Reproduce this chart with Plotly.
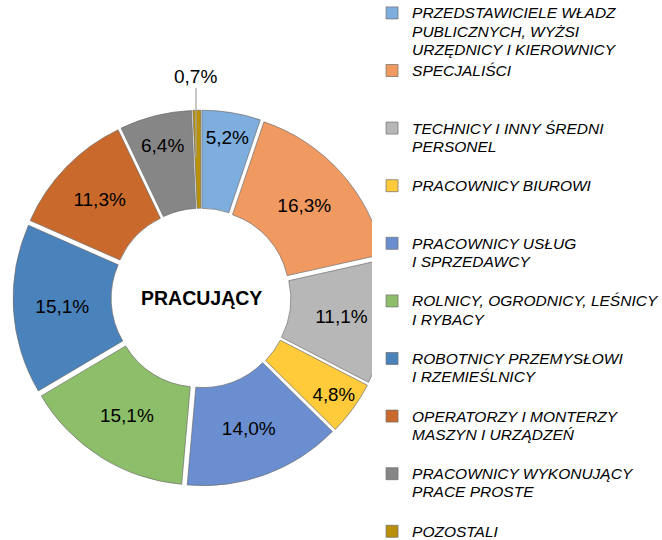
import plotly.graph_objects as go

categories = [
    "PRZEDSTAWICIELE WŁADZ<br>PUBLICZNYCH, WYŻSI<br>URZĘDNICY I KIEROWNICY",
    "SPECJALIŚCI",
    "TECHNICY I INNY ŚREDNI<br>PERSONEL",
    "PRACOWNICY BIUROWI",
    "PRACOWNICY USŁUG<br>I SPRZEDAWCY",
    "ROLNICY, OGRODNICY, LEŚNICY<br>I RYBACY",
    "ROBOTNICY PRZEMYSŁOWI<br>I RZEMIEŚLNICY",
    "OPERATORZY I MONTERZY<br>MASZYN I URZĄDZEŃ",
    "PRACOWNICY WYKONUJĄCY<br>PRACE PROSTE",
    "POZOSTALI",
]
values = [5.2, 16.3, 11.1, 4.8, 14.0, 15.1, 15.1, 11.3, 6.4, 0.7]
colors = ["#7EAEDE", "#F09A62", "#B7B7B7", "#FFCB3A", "#6A8ED0",
          "#8DBF6A", "#4A82BC", "#C96A2C", "#868686", "#B8900A"]
center_title = "PRACUJĄCY"

# pad legend labels to 3 lines each for even spacing (except the last one)
labels = []
for i, c in enumerate(categories):
    n = c.count("<br>") + 1
    pad = 0 if i == len(categories) - 1 else 3 - n
    lines = c.split("<br>") + ["\u00a0"] * pad
    labels.append("<br>".join('<span style="font-size:15.5px">' + s + "</span>" for s in lines))

# small last slice gets its label outside via an annotation with a leader line
textpos = ["inside"] * 9 + ["none"]

FONT = "Liberation Sans, Arial"

fig = go.Figure(go.Pie(
    labels=labels,
    values=values,
    sort=False,
    direction="clockwise",
    rotation=0,
    hole=0.46,
    pull=[0.035] * len(values),
    marker=dict(colors=colors, line=dict(color="rgba(110,110,110,0.7)", width=1)),
    texttemplate="%{value:.1f}%",
    textposition=textpos,
    insidetextorientation="horizontal",
    textfont=dict(size=19, color="#000000", family=FONT),
    domain=dict(x=[0.0196, 0.5876], y=[0.1, 0.796]),
))

fig.add_annotation(text="<b>" + center_title + "</b>", x=201/662, y=1-298/540,
                   xref="paper", yref="paper", showarrow=False,
                   xanchor="center", yanchor="middle",
                   font=dict(size=19.5, color="#000000", family=FONT))

small_label = f"{values[-1]:.1f}".replace(".", ",") + "%"
fig.add_annotation(text=small_label, x=196/662, y=1-157/540,
                   xref="paper", yref="paper", showarrow=True,
                   arrowhead=0, arrowwidth=1.2, arrowcolor="#A6A6A6",
                   ax=0, ay=-81, standoff=0,
                   font=dict(size=19, color="#000000", family=FONT))

fig.update_layout(
    width=662, height=540,
    margin=dict(l=0, r=0, t=0, b=0, autoexpand=False),
    paper_bgcolor="white", plot_bgcolor="white",
    separators=", ",
    showlegend=True,
    legend=dict(x=0.562, y=1.005, xanchor="left", yanchor="top", valign="top",
                font=dict(size=14.0, color="#000000", family=FONT, style="italic"),
                tracegroupgap=0, itemwidth=30, maxheight=700),
)

fig.write_html("out.html", config={"displayModeBar": False},
               post_script="document.body.style.margin='0';")
